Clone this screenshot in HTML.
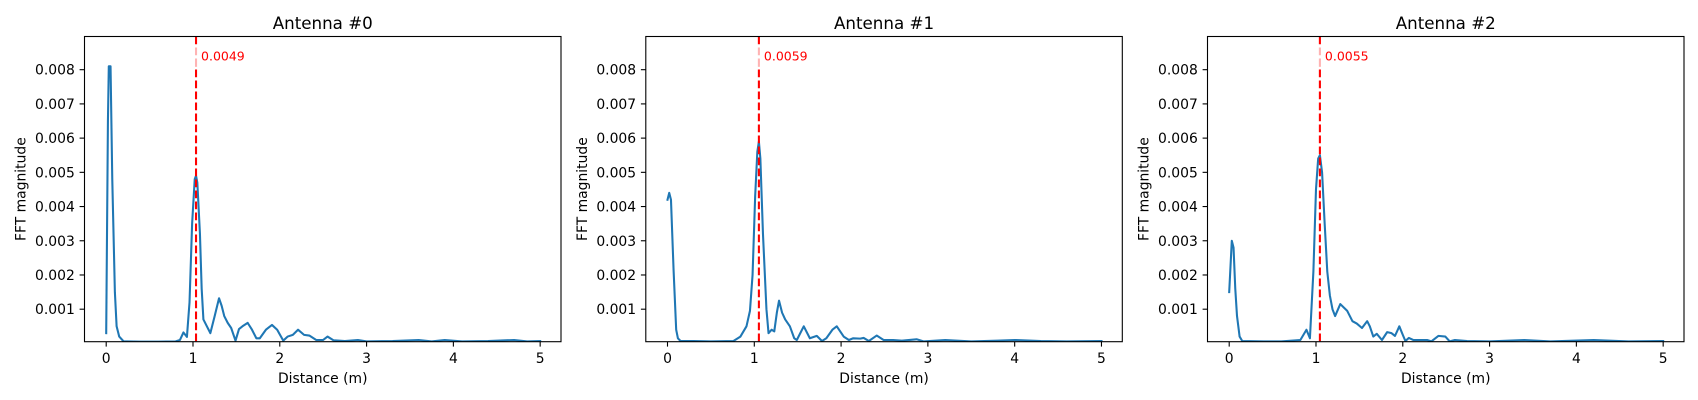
<!DOCTYPE html>
<html><head><meta charset="utf-8">
<style>
html,body{margin:0;padding:0;background:#fff;}
svg{display:block;font-family:"DejaVu Sans","Liberation Sans",sans-serif;}
</style></head>
<body>
<svg id="fig" width="1698" height="400" viewBox="0 0 1698 400" xmlns="http://www.w3.org/2000/svg"></svg>
<script>
const titles = ["Antenna #0", "Antenna #1", "Antenna #2"];
const xTicks = [0, 1, 2, 3, 4, 5];
const yTicks = [0.001, 0.002, 0.003, 0.004, 0.005, 0.006, 0.007, 0.008];
const peakDist = [1.035, 1.053, 1.045];
const peakVal = [0.0049, 0.0059, 0.0055];

const dist0 = [0,0.02,0.03,0.05,0.07,0.10,0.12,0.15,0.2,0.4,0.6,0.8,0.85,0.89,0.93,0.96,0.99,1.02,1.035,1.05,1.08,1.1,1.12,1.16,1.2,1.25,1.30,1.33,1.36,1.40,1.44,1.49,1.53,1.57,1.63,1.68,1.73,1.77,1.84,1.91,1.97,2.04,2.09,2.15,2.21,2.28,2.34,2.42,2.5,2.55,2.62,2.75,2.9,3.0,3.3,3.6,3.75,3.9,4.1,4.4,4.7,4.85,5.0];
const mag0 = [0.0003,0.0065,0.0081,0.0081,0.0048,0.0015,0.0005,0.0002,0.00006,0.00005,0.00005,0.00006,0.0001,0.00032,0.00019,0.0012,0.0035,0.0048,0.0049,0.0047,0.0032,0.0016,0.0007,0.0005,0.0003,0.0008,0.00132,0.0011,0.0008,0.0006,0.00045,0.00008,0.00042,0.0005,0.0006,0.0004,0.00015,0.00015,0.0004,0.00054,0.0004,0.00008,0.0002,0.00025,0.0004,0.00025,0.00023,0.0001,0.0001,0.0002,0.00009,0.00007,0.0001,0.00006,0.00007,0.0001,0.00006,0.0001,0.00006,0.00007,0.0001,0.00006,0.00007];

const dist1 = [0,0.02,0.04,0.07,0.1,0.12,0.15,0.3,0.5,0.76,0.84,0.91,0.95,0.98,1.01,1.035,1.053,1.07,1.1,1.14,1.164,1.2,1.23,1.26,1.285,1.32,1.356,1.41,1.46,1.49,1.53,1.57,1.64,1.72,1.78,1.83,1.9,1.95,2.03,2.09,2.14,2.22,2.26,2.32,2.41,2.49,2.6,2.7,2.87,2.95,3.2,3.5,3.8,4.0,4.3,4.6,5.0];
const mag1 = [0.0042,0.0044,0.0042,0.00215,0.0004,0.00015,0.00007,0.00007,0.00006,0.00007,0.0002,0.0005,0.00095,0.002,0.0043,0.0056,0.0059,0.0054,0.0032,0.001,0.0003,0.0004,0.00035,0.0009,0.00125,0.0009,0.0007,0.0005,0.00015,0.0001,0.0003,0.0005,0.00015,0.00022,0.00007,0.00015,0.0004,0.0005,0.0002,0.0001,0.00015,0.00014,0.00016,0.00007,0.00023,0.0001,0.0001,0.00008,0.00012,0.00006,0.0001,0.00006,0.00008,0.0001,0.00007,0.00006,0.00007];

const dist2 = [0,0.03,0.05,0.07,0.09,0.12,0.15,0.4,0.6,0.82,0.89,0.93,0.97,1.0,1.025,1.045,1.07,1.1,1.13,1.16,1.19,1.22,1.28,1.32,1.36,1.42,1.47,1.53,1.59,1.62,1.66,1.7,1.76,1.82,1.87,1.91,1.96,2.0,2.03,2.07,2.12,2.28,2.33,2.41,2.49,2.54,2.6,2.74,3.0,3.4,3.7,4.2,4.6,5.0];
const mag2 = [0.0015,0.003,0.0028,0.0016,0.0008,0.0002,0.00007,0.00006,0.00006,0.0001,0.0004,0.00015,0.0021,0.0045,0.0054,0.0055,0.005,0.0035,0.0021,0.0014,0.001,0.0008,0.00115,0.00105,0.00095,0.00065,0.00058,0.00045,0.00065,0.0005,0.0002,0.00028,0.0001,0.00033,0.0003,0.00022,0.0005,0.00025,0.00007,0.00016,0.0001,0.0001,0.00006,0.00022,0.0002,0.00006,0.0001,0.00007,0.00006,0.0001,0.00006,0.0001,0.00006,0.00007];

const dists = [dist0, dist1, dist2];
const mags = [mag0, mag1, mag2];

const NS = "http://www.w3.org/2000/svg";
const svg = document.getElementById("fig");
const AX_LEFT = [84.5, 645.8, 1207.5];
const AX_W = 476.5, AX_TOP = 36.5, AX_BOT = 341.7;
const XMIN = -0.25, XMAX = 5.24, YMIN = 0.00005, YMAX = 0.00897;
function mk(tag, attrs, parent) {
  const e = document.createElementNS(NS, tag);
  for (const k in attrs) e.setAttribute(k, attrs[k]);
  (parent || svg).appendChild(e);
  return e;
}
for (let p = 0; p < 3; p++) {
  const L = AX_LEFT[p];
  const sx = v => L + (v - XMIN) / (XMAX - XMIN) * AX_W;
  const sy = v => AX_BOT - (v - YMIN) / (YMAX - YMIN) * (AX_BOT - AX_TOP);
  const g = mk("g", {});
  
  
  const clipId = "clip" + p;
  const cp = mk("clipPath", {id: clipId}, g);
  mk("rect", {x: L, y: AX_TOP, width: AX_W, height: AX_BOT - AX_TOP}, cp);

  // series line
  let d = "";
  dists[p].forEach((x, i) => { d += (i ? "L" : "M") + sx(x).toFixed(2) + "," + sy(mags[p][i]).toFixed(2); });
  const line = mk("path", {d: d, fill: "none", stroke: "#1f77b4", "stroke-width": 2.08, "stroke-linejoin": "round", "stroke-linecap": "square", "clip-path": "url(#" + clipId + ")"}, g);
  
  

  // peak vertical line
  const vx = sx(peakDist[p]);
  const vl = mk("line", {x1: vx, x2: vx, y1: AX_TOP, y2: AX_BOT, stroke: "#ff0000", "stroke-width": 2.08, "stroke-dasharray": "7.7,3.3"}, g);
  
  
  // annotation bbox (semi-transparent white)
  const bb = mk("rect", {x: vx - 2, y: 46, width: 52, height: 20, fill: "#fff", "fill-opacity": 0.7}, g);
  
  
  const pt = mk("text", {x: vx + 5, y: 60.5, "font-size": 12.5, fill: "#ff0000"}, g);
  pt.textContent = peakVal[p].toFixed(4);
  
  

  // spines
  const fr = mk("rect", {x: L, y: AX_TOP, width: AX_W, height: AX_BOT - AX_TOP, fill: "none", stroke: "#000", "stroke-width": 1.1}, g);
  
  

  // x ticks
  xTicks.forEach(t => {
    const x = sx(t);
    const tk = mk("line", {x1: x, x2: x, y1: AX_BOT, y2: AX_BOT + 4.9, stroke: "#000", "stroke-width": 1.1}, g);
    
    
    const tl = mk("text", {x: x, y: 363, "font-size": 13.9, "text-anchor": "middle", fill: "#000"}, g);
    tl.textContent = String(t);
    
    
  });
  // y ticks
  yTicks.forEach(t => {
    const y = sy(t);
    const tk = mk("line", {x1: L - 4.9, x2: L, y1: y, y2: y, stroke: "#000", "stroke-width": 1.1}, g);
    
    
    const tl = mk("text", {x: L - 9.7, y: y + 5, "font-size": 13.9, "text-anchor": "end", fill: "#000"}, g);
    tl.textContent = t.toFixed(3);
    
    
  });
  const xl = mk("text", {x: L + AX_W / 2, y: 383, "font-size": 13.9, "text-anchor": "middle", fill: "#000"}, g);
  xl.textContent = "Distance (m)";
  
  
  const yx = L - 59;
  const yl = mk("text", {x: yx, y: (AX_TOP + AX_BOT) / 2, "font-size": 13.9, "text-anchor": "middle", fill: "#000", transform: "rotate(-90 " + yx + " " + (AX_TOP + AX_BOT) / 2 + ")"}, g);
  yl.textContent = "FFT magnitude";
  
  
  const tt = mk("text", {x: L + AX_W / 2, y: 29, "font-size": 16.7, "text-anchor": "middle", fill: "#000"}, g);
  tt.textContent = titles[p];
  
  
}
</script>
</body></html>
